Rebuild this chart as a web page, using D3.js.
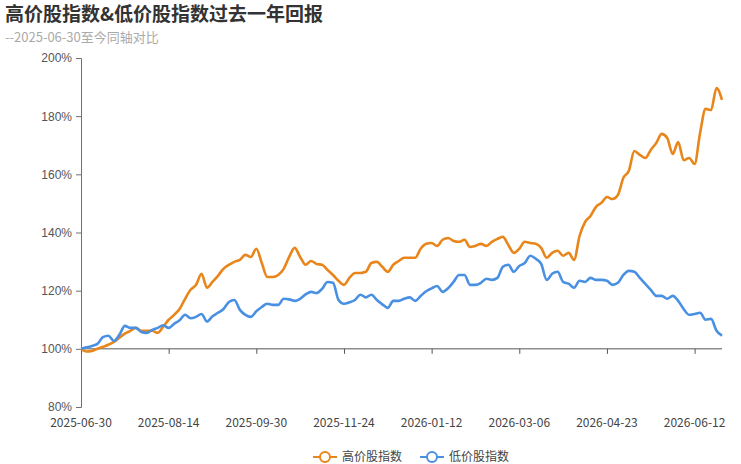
<!DOCTYPE html>
<html>
<head>
<meta charset="utf-8">
<script src="https://cdn.jsdelivr.net/npm/d3@7"></script>
<style>
    body { margin: 0; background: #fff; }
    svg { display: block; font-family: "Noto Sans CJK SC", "Noto Sans", sans-serif; }
</style>
</head>
<body>
<svg id="svgReturns" width="741" height="464"></svg>
<script>
// tick labels on the category axis (every 16th trading point)
const tickLabels = ["2025-06-30", "2025-08-14", "2025-09-30", "2025-11-24", "2026-01-12", "2026-03-06", "2026-04-23", "2026-06-12"];
const tickEvery = 16;

const seriesNames = ["高价股指数", "低价股指数"];

// cumulative return, % of 2025-06-30 level
const highPrice = [
    100.0, 99.1, 99.3, 100.0, 100.7, 101.4, 102.4, 103.8, 105.2, 106.2,
    107.2, 106.2, 106.2, 106.2, 105.5, 107.6, 110.0, 111.7, 113.7, 117.2,
    120.3, 122.0, 125.8, 121.0, 123.0, 125.1, 127.5, 128.9, 129.9, 130.6,
    132.3, 131.6, 134.4, 129.5, 124.7, 124.7, 125.4, 127.5, 131.6, 134.7,
    131.6, 128.9, 130.2, 129.2, 128.9, 127.1, 125.4, 123.4, 122.0, 124.4,
    126.1, 126.1, 126.5, 129.5, 129.9, 128.2, 126.5, 128.9, 130.2, 131.3,
    131.3, 131.3, 134.4, 136.1, 136.4, 135.4, 137.5, 138.1, 137.1, 136.8,
    137.5, 135.0, 135.4, 136.1, 135.4, 136.8, 137.8, 138.5, 135.7, 133.0,
    134.4, 136.8, 136.4, 136.1, 134.7, 131.3, 133.0, 133.7, 132.0, 133.0,
    130.6, 138.8, 143.6, 145.7, 148.8, 150.2, 152.2, 151.5, 152.9, 158.8,
    161.2, 168.0, 166.7, 165.6, 168.4, 170.8, 173.9, 172.5, 167.0, 171.1,
    164.9, 165.6, 163.6, 174.2, 182.5, 182.1, 189.7, 185.6
];
const lowPrice = [
    100.0, 100.5, 101.0, 101.7, 104.0, 104.5, 102.7, 104.8, 107.9, 107.2,
    107.2, 105.8, 105.5, 106.5, 107.2, 108.1, 107.2, 108.6, 109.8, 111.7,
    110.5, 111.0, 112.0, 109.4, 111.2, 112.4, 113.7, 116.1, 116.8, 113.4,
    111.7, 111.0, 112.9, 114.4, 115.5, 115.1, 115.1, 117.2, 117.0, 116.5,
    117.2, 118.7, 119.6, 119.2, 120.6, 123.0, 122.7, 116.8, 115.5, 116.0,
    116.8, 118.6, 117.7, 118.6, 116.8, 115.3, 114.1, 116.5, 116.5, 117.2,
    117.7, 116.5, 118.2, 119.8, 120.8, 121.6, 119.6, 120.8, 123.0, 125.4,
    125.4, 122.0, 122.0, 122.7, 124.1, 123.7, 124.4, 128.2, 128.9, 126.5,
    128.5, 129.5, 132.0, 131.0, 129.2, 123.7, 125.8, 126.5, 123.0, 122.4,
    121.0, 123.4, 123.0, 124.4, 123.7, 123.7, 123.4, 122.0, 122.7, 125.4,
    126.8, 126.5, 124.4, 122.3, 120.3, 118.2, 118.2, 117.2, 118.2, 116.5,
    113.7, 111.7, 112.0, 112.4, 110.0, 110.3, 106.2, 104.5
];
const yTicks = [80, 100, 120, 140, 160, 180, 200];

const colors = ["#e8861c", "#4a90e2"];

const svg = d3.select("#svgReturns");
const margin = { top: 58, right: 13, bottom: 57, left: 81 };
const width = 741 - margin.left - margin.right;
const height = 464 - margin.top - margin.bottom;

// title
svg.append("text")
    .attr("x", 5)
    .attr("y", 21)
    .style("font-size", "19px")
    .style("font-weight", "bold")
    .style("fill", "#333")
    .text("高价股指数&低价股指数过去一年回报");

svg.append("text")
    .attr("x", 5)
    .attr("y", 42)
    .style("font-size", "13px")
    .style("fill", "#aaa")
    .text("--2025-06-30至今同轴对比");

const g = svg.append("g")
    .attr("transform", `translate(${margin.left},${margin.top})`);

const x = d3.scaleLinear()
    .domain([0, highPrice.length - 1])
    .range([0, width - 6]);

const y = d3.scaleLinear()
    .domain([80, 200])
    .range([height, 0]);

// y axis
const yAxis = g.append("g")
    .call(d3.axisLeft(y).tickValues(yTicks).tickSize(5).tickPadding(4).tickFormat(d => d + "%"));
yAxis.select(".domain").attr("stroke", "#6e7079");
yAxis.selectAll(".tick line").attr("stroke", "#6e7079");
yAxis.selectAll(".tick text")
    .style("font-size", "12px")
    .style("fill", "#555");

// x axis line sits on 100%, labels at the bottom
const tickIdx = tickLabels.map((d, i) => i * tickEvery);
const xAxis = g.append("g")
    .attr("transform", `translate(0,${y(100)})`)
    .call(d3.axisBottom(x).tickValues(tickIdx).tickSize(5).tickSizeOuter(0).tickFormat(""));
xAxis.select(".domain")
    .attr("d", `M0,0H${width - 6}`)
    .attr("stroke", "#555");
xAxis.selectAll(".tick line").attr("stroke", "#555");

g.selectAll(".xlabel")
    .data(tickIdx)
    .enter().append("text")
    .attr("class", "xlabel")
    .attr("x", d => x(d))
    .attr("y", height + 20)
    .attr("text-anchor", "middle")
    .style("font-size", "12px")
    .style("fill", "#444")
    .text((d, i) => tickLabels[i]);

// lines
const line = d3.line()
    .x((d, i) => x(i))
    .y(d => y(d))
    .curve(d3.curveMonotoneX);

[highPrice, lowPrice].forEach((data, k) => {
    g.append("path")
        .datum(data)
        .attr("fill", "none")
        .attr("stroke", colors[k])
        .attr("stroke-width", 2.6)
        .attr("stroke-linejoin", "round")
        .attr("d", line);
});

// legend
const legend = svg.selectAll(".legend")
    .data(seriesNames)
    .enter().append("g")
    .attr("class", "legend")
    .attr("transform", (d, i) => `translate(${313 + i * 107},457)`);

legend.append("line")
    .attr("x1", 0)
    .attr("x2", 24)
    .attr("y1", 0)
    .attr("y2", 0)
    .attr("stroke", (d, i) => colors[i])
    .attr("stroke-width", 2);

legend.append("circle")
    .attr("cx", 12)
    .attr("cy", 0)
    .attr("r", 5)
    .attr("fill", "#fff")
    .attr("stroke", (d, i) => colors[i])
    .attr("stroke-width", 2);

legend.append("text")
    .attr("x", 29)
    .attr("y", 0)
    .attr("dy", "0.35em")
    .style("font-size", "12px")
    .style("fill", "#444")
    .text(d => d);
</script>
</body>
</html>
